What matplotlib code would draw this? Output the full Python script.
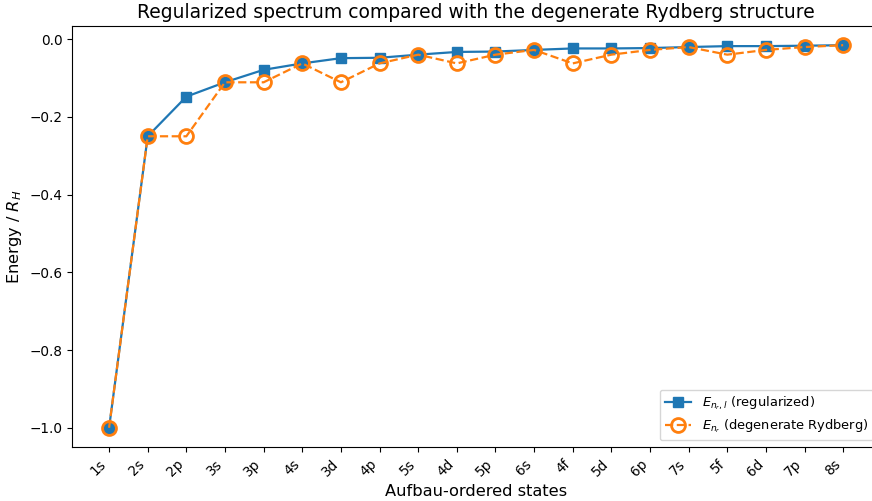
import numpy as np
import matplotlib
matplotlib.use("Agg")
import matplotlib.pyplot as plt

states = ["1s", "2s", "2p", "3s", "3p", "4s", "3d", "4p", "5s", "4d",
          "5p", "6s", "4f", "5d", "6p", "7s", "5f", "6d", "7p", "8s"]

# regularized energies
e_reg = [-1.0, -0.25, -0.148, -0.111, -0.079, -0.0625, -0.049, -0.048,
         -0.040, -0.033, -0.032, -0.0278, -0.024, -0.024, -0.023, -0.0204,
         -0.018, -0.018, -0.017, -0.0156]

# degenerate Rydberg levels -1/n^2
e_ryd = [-1.0, -0.25, -0.25, -0.1111, -0.1111, -0.0625, -0.1111, -0.0625,
         -0.04, -0.0625, -0.04, -0.0278, -0.0625, -0.04, -0.0278, -0.0204,
         -0.04, -0.0278, -0.0204, -0.0156]

x = np.arange(len(states))

fig, ax = plt.subplots(figsize=(8.72, 5.01), dpi=100)
ax.plot(x, e_reg, "-s", color="#1f77b4", markersize=7, linewidth=1.6,
        label=r"$E_{n_r,l}$ (regularized)")
ax.plot(x, e_ryd, "--o", color="#ff7f0e", markersize=10, markerfacecolor="none",
        markeredgewidth=2, linewidth=1.6,
        label=r"$E_{n_r}$ (degenerate Rydberg)")

ax.set_xticks(x)
ax.set_xticklabels(states, rotation=45, ha="right", fontsize=9.8)
ax.tick_params(axis="y", labelsize=9.8)
ax.set_xlabel("Aufbau-ordered states", fontsize=11.7)
ax.set_ylabel(r"Energy / $R_H$", fontsize=11.7)
ax.set_title("Regularized spectrum compared with the degenerate Rydberg structure", fontsize=13.5)
ax.legend(loc="lower right", fontsize=9.4, labelspacing=0.4)

# axes run slightly past the right edge of the figure, like the original crop
plt.subplots_adjust(left=0.083, right=1.009, top=0.948, bottom=0.108)
fig.savefig("out.png")
